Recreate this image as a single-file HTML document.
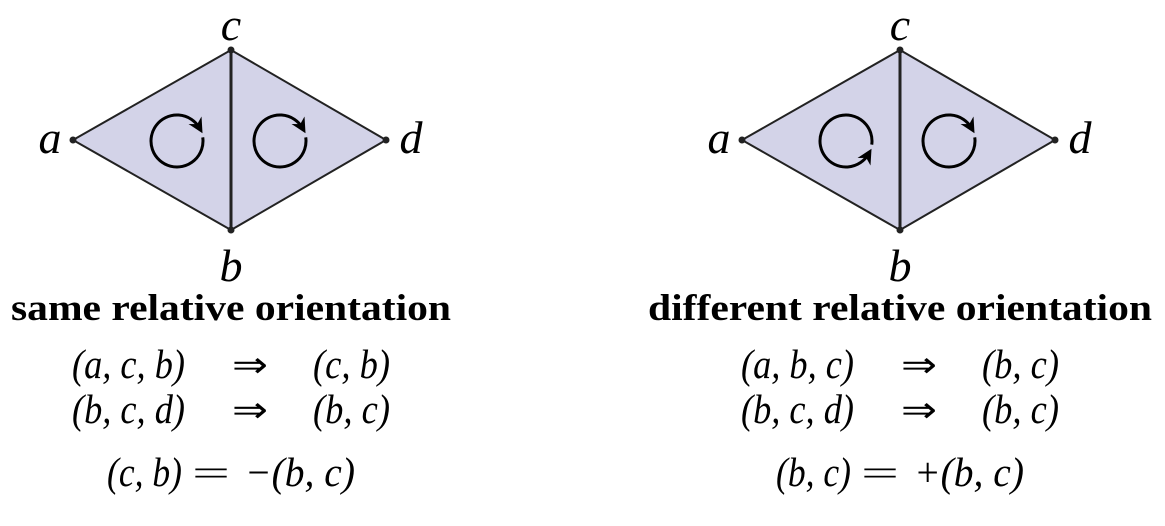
<!DOCTYPE html>
<html><head><meta charset="utf-8"><style>
html,body{margin:0;padding:0;background:#fff;}
svg{display:block;}
text{font-family:"Liberation Serif",serif;fill:#000;}
.v{font-style:italic;font-size:46px;}
.t{font-weight:bold;font-size:37px;}
.e{font-style:italic;font-size:41px;}
.op{font-size:36px;}
</style></head><body>
<svg width="1165" height="526" viewBox="0 0 1165 526">
<defs>
<marker id="ah" viewBox="0 0 10 10" refX="6" refY="5" markerWidth="5" markerHeight="5" orient="auto" markerUnits="strokeWidth">
<path d="M0,0 L10,5 L0,10 L3,5 Z" fill="#000"/></marker>
</defs>
<g id="root"></g>
</svg>
<script>
const svg=document.getElementById('root');
const NS='http://www.w3.org/2000/svg';
function mk(tag,attrs,parent){const e=document.createElementNS(NS,tag);for(const k in attrs)e.setAttribute(k,attrs[k]);(parent||svg).appendChild(e);return e;}
const diagrams=[{dx:0,arrows:[1,1],title:'same relative orientation',tw:440,
 l1:['(a, c, b)','(c, b)'],l2:['(b, c, d)','(b, c)'],l3:['(c, b)','−(b, c)']},
 {dx:669,arrows:[-1,1],title:'different relative orientation',tw:504,
 l1:['(a, b, c)','(b, c)'],l2:['(b, c, d)','(b, c)'],l3:['(b, c)','+(b, c)']}];
diagrams.forEach((d,i)=>{
 const g=mk('g',{transform:`translate(${d.dx},0)`});
 
 
 const A=[73,140],C=[231,50],B=[231,230],D=[386,140];
 const p=mk('polygon',{points:[A,C,D,B].map(q=>q.join(',')).join(' '),fill:'#d3d3e8',stroke:'#222','stroke-width':2,'stroke-linejoin':'round'},g);
 
 mk('line',{x1:231,y1:50,x2:231,y2:230,stroke:'#222','stroke-width':3},g);
 [A,B,C,D].forEach(q=>mk('circle',{cx:q[0],cy:q[1],r:3.5,fill:'#222'},g));
 [[177,141],[280,141]].forEach((c,k)=>{
  const dir=d.arrows[k], r=26, rad=Math.PI/180;
  const a0=dir===1?-8:8, ang1=dir===1?330:30, sweep=dir===1?1:0;
  const x0=c[0]+r*Math.cos(a0*rad),y0=c[1]+r*Math.sin(a0*rad);
  const x1=c[0]+r*Math.cos(ang1*rad),y1=c[1]+r*Math.sin(ang1*rad);
  const path=mk('path',{d:`M${x0},${y0} A${r},${r} 0 1 ${sweep} ${x1},${y1}`,fill:'none',stroke:'#000','stroke-width':3,'marker-end':'url(#ah)'},g);
  
  
 });
 const lbl=(s,x,y,n)=>{const t=mk('text',{x,y,'text-anchor':'middle',class:'v'},g);t.textContent=s;};
 lbl('a',50,153,'vertex-a');lbl('c',231,40,'vertex-c');lbl('b',231,281,'vertex-b');lbl('d',411,153,'vertex-d');
 const tt=mk('text',{x:231-d.tw/2,y:320,class:'t',textLength:d.tw,lengthAdjust:'spacingAndGlyphs'},g);
 tt.textContent=d.title;
 const seg=(s,x,w,y,n,cls)=>{const t=mk('text',{x,y,class:cls||'e',textLength:w,lengthAdjust:'spacingAndGlyphs'},g);t.textContent=s;};
 seg(d.l1[0],72,113,378,'eq1-triple');seg('⇒',232,36,377,'eq1-implies','op');seg(d.l1[1],313,77,378,'eq1-edge');
 seg(d.l2[0],72,113,423,'eq2-triple');seg('⇒',232,36,422,'eq2-implies','op');seg(d.l2[1],313,77,423,'eq2-edge');
 seg(d.l3[0],107,75,486,'eq3-left');seg('=',192,38,485,'eq3-equals','op');seg(d.l3[1],245,110,486,'eq3-right');
});
</script>
</body></html>
